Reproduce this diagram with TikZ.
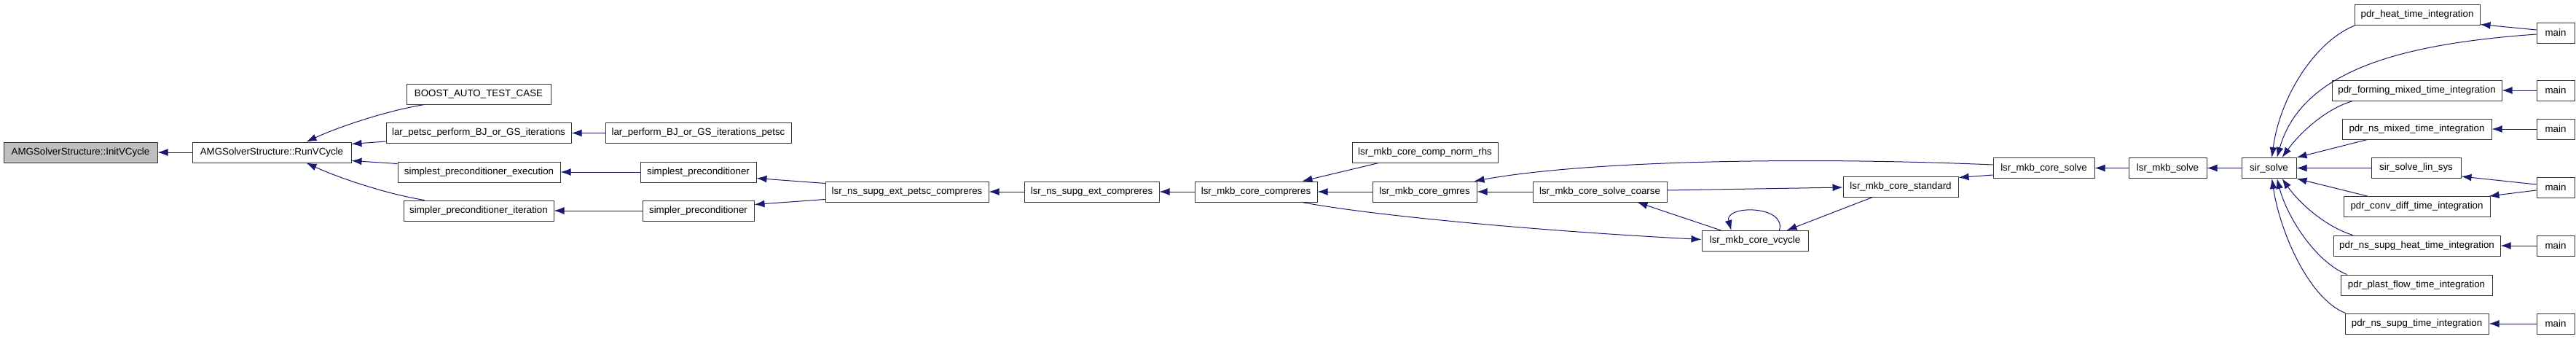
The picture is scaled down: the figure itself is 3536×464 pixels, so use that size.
\documentclass[tikz,border=0pt]{standalone}
\usepackage{fontspec}
\setmainfont{Liberation Sans}
\usetikzlibrary{arrows.meta,calc}
\definecolor{callblue}{RGB}{25,25,112}
\tikzset{
	fn/.style={draw=black!80, line width=1pt, fill=white, minimum height=28pt, inner sep=0pt, font=\fontsize{13.33}{16}\selectfont},
	fnhl/.style={fn, fill=black!25},
	call/.style={draw=callblue, line width=1pt, -{Latex[length=14pt,width=10pt]}},
}
\begin{document}
\begin{tikzpicture}[x=1pt,y=-1pt]
	\useasboundingbox (0,0) rectangle (3536,464);
	
	\node[fnhl, minimum width=211pt] (init) at (110.5,209) {AMGSolverStructure::InitVCycle};
	\node[fn, minimum width=218pt] (run) at (373,209) {AMGSolverStructure::RunVCycle};
	
	\node[fn, minimum width=198pt] (boost) at (657,129) {BOOST\_AUTO\_TEST\_CASE};
	\node[fn, minimum width=254pt] (larpetsc) at (657,182.5) {lar\_petsc\_perform\_BJ\_or\_GS\_iterations};
	\node[fn, minimum width=223pt] (simplestexec) at (657.5,236) {simplest\_preconditioner\_execution};
	\node[fn, minimum width=206pt] (simpleriter) at (657,289) {simpler\_preconditioner\_iteration};
	
	\node[fn, minimum width=255pt] (larperf) at (958.5,182.5) {lar\_perform\_BJ\_or\_GS\_iterations\_petsc};
	\node[fn, minimum width=159pt] (simplestprec) at (958.5,236) {simplest\_preconditioner};
	\node[fn, minimum width=153pt] (simplerprec) at (958.5,289) {simpler\_preconditioner};
	
	\node[fn, minimum width=224pt] (petsccomp) at (1245,263) {lsr\_ns\_supg\_ext\_petsc\_compreres};
	\node[fn, minimum width=185pt] (extcomp) at (1498.5,263) {lsr\_ns\_supg\_ext\_compreres};
	\node[fn, minimum width=168pt] (corecomp) at (1724,263) {lsr\_mkb\_core\_compreres};
	\node[fn, minimum width=200pt] (normrhs) at (1956,209) {lsr\_mkb\_core\_comp\_norm\_rhs};
	\node[fn, minimum width=143pt] (gmres) at (1955.5,263) {lsr\_mkb\_core\_gmres};
	\node[fn, minimum width=184pt] (coarse) at (2196,263) {lsr\_mkb\_core\_solve\_coarse};
	\node[fn, minimum width=146pt] (vcycle) at (2409,330.5) {lsr\_mkb\_core\_vcycle};
	\node[fn, minimum width=158pt] (standard) at (2609,256) {lsr\_mkb\_core\_standard};
	\node[fn, minimum width=139pt] (coresolve) at (2805.5,230.5) {lsr\_mkb\_core\_solve};
	\node[fn, minimum width=107pt] (mkbsolve) at (2975.5,230.5) {lsr\_mkb\_solve};
	\node[fn, minimum width=75pt] (sirsolve) at (3114.5,230.5) {sir\_solve};
	
	\node[fn, minimum width=172pt] (heat) at (3318,20) {pdr\_heat\_time\_integration};
	\node[fn, minimum width=233pt] (forming) at (3317.5,124) {pdr\_forming\_mixed\_time\_integration};
	\node[fn, minimum width=205pt] (nsmixed) at (3317.5,177) {pdr\_ns\_mixed\_time\_integration};
	\node[fn, minimum width=123pt] (linsys) at (3316.5,230.5) {sir\_solve\_lin\_sys};
	\node[fn, minimum width=201pt] (convdiff) at (3317.5,283.5) {pdr\_conv\_diff\_time\_integration};
	\node[fn, minimum width=229pt] (supgheat) at (3317.5,337) {pdr\_ns\_supg\_heat\_time\_integration};
	\node[fn, minimum width=208pt] (plast) at (3317,391) {pdr\_plast\_flow\_time\_integration};
	\node[fn, minimum width=197pt] (supg) at (3317.5,444) {pdr\_ns\_supg\_time\_integration};
	
	\node[fn, minimum width=52pt] (main1) at (3508,45) {main};
	\node[fn, minimum width=52pt] (main2) at (3508,124) {main};
	\node[fn, minimum width=52pt] (main3) at (3508,177) {main};
	\node[fn, minimum width=52pt] (main4) at (3508,257) {main};
	\node[fn, minimum width=52pt] (main5) at (3508,337) {main};
	\node[fn, minimum width=52pt] (main6) at (3508,444) {main};
	
	\draw[call] (run) -- (init);
	\draw[call] ($(boost.south west)+(25,0)$) .. controls (530,152) and (465,174) .. ($(run.north east)+(-62,0)$);
	\draw[call] ($(larpetsc.south west)+(0,-3)$) -- ($(run.north east)+(0,3)$);
	\draw[call] ($(simplestexec.north west)+(0,3)$) -- ($(run.south east)+(0,-3)$);
	\draw[call] ($(simpleriter.north west)+(29,0)$) .. controls (530,266) and (465,244) .. ($(run.south east)+(-62,0)$);
	\draw[call] (larperf) -- (larpetsc);
	\draw[call] (simplestprec) -- (simplestexec);
	\draw[call] (simplerprec) -- (simpleriter);
	\draw[call] ($(petsccomp.north west)+(0,3)$) -- ($(simplestprec.south east)+(0,-6)$);
	\draw[call] ($(petsccomp.south west)+(0,-4)$) -- ($(simplerprec.north east)+(0,6)$);
	\draw[call] (extcomp) -- (petsccomp);
	\draw[call] (corecomp) -- (extcomp);
	\draw[call] ($(normrhs.south west)+(37,0)$) -- ($(corecomp.north east)+(-21,0)$);
	\draw[call] (gmres) -- (corecomp);
	\draw[call] (coarse) -- (gmres);
	\draw[call] ($(coresolve.north west)+(0,10)$) .. controls (2480,215) and (2180,220) .. ($(gmres.north east)+(-4,0)$);
	\draw[call] ($(coarse.east)+(0,-2)$) -- ($(standard.west)+(0,1)$);
	\draw[call] ($(corecomp.south east)+(-21,0)$) .. controls (1880,295) and (2100,316) .. ($(vcycle.west)+(0,-2)$);
	\draw[call] ($(vcycle.north west)+(27,0)$) -- ($(coarse.south east)+(-41,0)$);
	\draw[call] ($(vcycle.north east)+(-40,0)$) .. controls +(10,-35) and +(-10,-35) .. ($(vcycle.north west)+(41,0)$);
	\draw[call] ($(standard.south west)+(41,0)$) -- ($(vcycle.north east)+(-30,0)$);
	\draw[call] ($(coresolve.south west)+(0,-5)$) -- ($(standard.north east)+(0,2)$);
	\draw[call] (mkbsolve) -- (coresolve);
	\draw[call] (sirsolve) -- (mkbsolve);
	
	\draw[call] ($(heat.south west)+(2,0)$) .. controls (3180,55) and (3130,130) .. ($(sirsolve.north)+(4,0)$);
	\draw[call] ($(main1.west)+(0,2)$) .. controls (3300,60) and (3160,95) .. ($(sirsolve.north)+(11,0)$);
	\draw[call] ($(main1.west)+(0,-4)$) -- ($(heat.south east)+(0,-1)$);
	\draw[call] ($(forming.south west)+(29,0)$) .. controls (3190,150) and (3155,185) .. ($(sirsolve.north)+(18,0)$);
	\draw[call] (main2) -- (forming);
	\draw[call] ($(nsmixed.south west)+(35,0)$) -- (sirsolve.north east);
	\draw[call] (main3) -- (nsmixed);
	\draw[call] (linsys) -- (sirsolve);
	\draw[call] ($(main4.west)+(0,-4)$) -- ($(linsys.south east)+(0,-3)$);
	\draw[call] ($(main4.west)+(0,4)$) -- ($(convdiff.north east)+(-2,0)$);
	\draw[call] ($(convdiff.north west)+(33,0)$) -- (sirsolve.south east);
	\draw[call] ($(supgheat.north west)+(27,0)$) .. controls (3190,310) and (3155,277) .. ($(sirsolve.south)+(18,0)$);
	\draw[call] (main5) -- (supgheat);
	\draw[call] ($(plast.north west)+(9,0)$) .. controls (3180,360) and (3140,300) .. ($(sirsolve.south)+(11,0)$);
	\draw[call] ($(supg.north west)+(1,0)$) .. controls (3170,410) and (3130,320) .. ($(sirsolve.south)+(4,0)$);
	\draw[call] (main6) -- (supg);
\end{tikzpicture}
\end{document}
